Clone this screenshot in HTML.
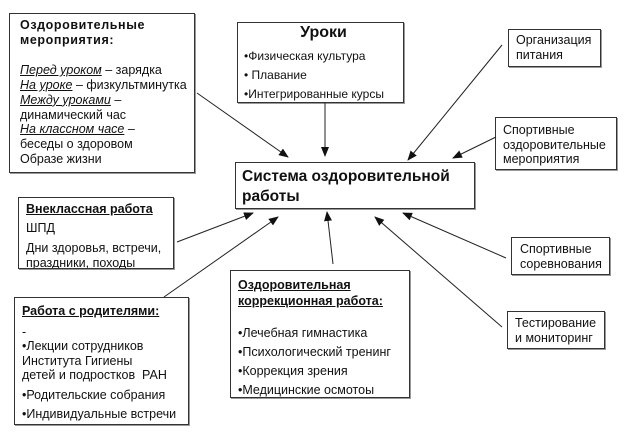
<!DOCTYPE html>
<html><head><meta charset="utf-8"><style>
body{margin:0;width:624px;height:435px;background:#fff;position:relative;overflow:hidden;font-family:"Liberation Sans",sans-serif;color:#111}
.b{position:absolute;border:1px solid #333;box-shadow:1px 1px 0 #999;background:#fff;box-sizing:border-box;font-size:12.5px;line-height:14.6px;overflow:hidden}
.t{font-weight:bold}
u i{font-style:italic}
p{margin:0}
svg{position:absolute;left:0;top:0}
</style></head><body>
<div class="b" style="left:9px;top:13px;width:186px;height:160px;padding:4px 0 0 10px">
<p class="t" style="letter-spacing:0.6px">Оздоровительные<br>мероприятия:</p>
<p style="margin-top:16px;line-height:14.8px"><u><i>Перед уроком</i></u> – зарядка<br><u><i>На уроке</i></u> – физкультминутка<br><u><i>Между уроками</i></u> –<br>динамический час<br><u><i>На классном часе</i></u> –<br>беседы о здоровом<br>Образе жизни</p>
</div>
<div class="b" style="left:237px;top:22px;width:167px;height:81px;padding:3px 0 0 6px;font-size:12px">
<p class="t" style="font-size:16px;text-align:center;margin:0 0 6px 0">Уроки</p>
<p style="line-height:19px">•Физическая культура<br>• Плавание<br>•Интегрированные курсы</p>
</div>
<div class="b" style="left:235px;top:162px;width:240px;height:47px;padding:4px 0 0 6px">
<p class="t" style="font-size:15.5px;line-height:20px">Система оздоровительной<br>работы</p>
</div>
<div class="b" style="left:508px;top:29px;width:93px;height:38px;padding:3px 0 0 7px">Организация<br>питания</div>
<div class="b" style="left:495px;top:117px;width:122px;height:53px;padding:5px 0 0 7px">Спортивные<br>оздоровительные<br>мероприятия</div>
<div class="b" style="left:511px;top:237px;width:99px;height:38px;padding:4px 0 0 8px">Спортивные<br>соревнования</div>
<div class="b" style="left:507px;top:311px;width:98px;height:38px;padding:4px 0 0 7px">Тестирование<br>и мониторинг</div>
<div class="b" style="left:18px;top:197px;width:156px;height:72px;padding:4px 0 0 7px">
<p class="t" style="text-decoration:underline">Внеклассная работа</p>
<p style="margin-top:4px">ШПД</p>
<p style="margin-top:6px;line-height:15px">Дни здоровья, встречи,<br>праздники, походы</p>
</div>
<div class="b" style="left:14px;top:297px;width:175px;height:128px;padding:6px 0 0 7px">
<p class="t" style="text-decoration:underline">Работа с родителями:</p>
<p style="margin-top:6px;line-height:14.5px">-<br>•Лекции сотрудников<br>Института Гигиены<br>детей и подростков&nbsp; РАН</p>
<p style="line-height:19px;margin-top:3px">•Родительские собрания<br>•Индивидуальные встречи</p>
</div>
<div class="b" style="left:230px;top:270px;width:180px;height:128px;padding:6px 0 0 7px">
<p class="t" style="text-decoration:underline;line-height:16px">Оздоровительная<br>коррекционная работа:</p>
<p style="margin-top:15px;line-height:19px">•Лечебная гимнастика<br>•Психологический тренинг<br>•Коррекция зрения<br>•Медицинские осмотоы</p>
</div>
<svg width="624" height="435"><defs><marker id="a" markerWidth="10" markerHeight="8" refX="9" refY="4" orient="auto" markerUnits="userSpaceOnUse"><path d="M0,0L10,4L0,8z" fill="#111"/></marker></defs>
<g stroke="#222" stroke-width="1" marker-end="url(#a)">
<line x1="197" y1="93" x2="288" y2="157"/>
<line x1="325" y1="103" x2="325" y2="156"/>
<line x1="502" y1="45" x2="408" y2="160"/>
<line x1="496" y1="137" x2="453" y2="158"/>
<line x1="177" y1="242" x2="253" y2="213"/>
<line x1="164" y1="297" x2="278" y2="217"/>
<line x1="333" y1="264" x2="327" y2="212"/>
<line x1="506" y1="258" x2="403" y2="213"/>
<line x1="502" y1="327" x2="375" y2="217"/>
</g></svg>
</body></html>
